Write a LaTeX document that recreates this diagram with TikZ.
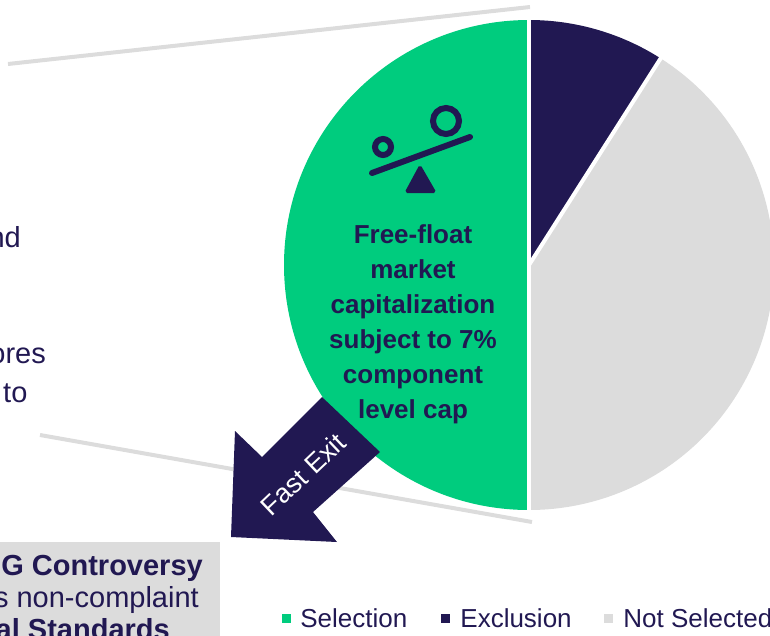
\documentclass[tikz,border=0pt]{standalone}
\usepackage{fontspec}
\setmainfont{Liberation Sans}
\usetikzlibrary{positioning}
\definecolor{esggreen}{HTML}{00CC7E}
\definecolor{esgnavy}{HTML}{211852}
\definecolor{esggrey}{HTML}{DCDCDC}

\begin{document}
\begin{tikzpicture}[x=1pt, y=-1pt,
			every node/.style = {inner sep=0pt, text=esgnavy,
					font=\fontsize{26}{35}\selectfont},
				side/.style={font=\fontsize{29}{32}\selectfont},
				leader/.style={draw=esggrey, line width=4pt},
				gap/.style={draw=white, line width=4pt},
				icon/.style={draw=esgnavy, line width=6pt, line cap=round},
				key/.style={minimum size=9pt}]
			\path[use as bounding box, clip] (0,0) rectangle (770,635);
			% leader lines
			\coordinate (lt1) at (8,64);
			\coordinate (lt2) at (530,7);
			\coordinate (lb1) at (40,435);
			\coordinate (lb2) at (532,522);
			\draw[leader] (lt1) -- (lt2);
			\draw[leader] (lb1) -- (lb2);
			% pie
			\coordinate (c) at (529,265);
			\fill[esggreen] (c) -- ++(0,-245) arc[start angle=-90, end angle=-270, radius=245] -- cycle;
			\fill[esgnavy] (c) -- ++(0,-245) arc[start angle=-90, end angle=-57.5, radius=245] -- cycle;
			\fill[esggrey] (c) -- ++(-57.5:245) arc[start angle=-57.5, end angle=90, radius=245] -- cycle;
			\draw[gap] (c) -- ++(0,-250);
			\draw[gap] (c) -- ++(0,250);
			\draw[gap] (c) -- ++(-57.5:250);
			% seesaw icon
			\draw[icon] (372,173) -- (470,137);
			\draw[icon] (383,147) circle[radius=8];
			\draw[icon] (446,121) circle[radius=13];
			\filldraw[esgnavy, line width=2pt, rounded corners=1.5pt] (420,166) -- (406,192) -- (435,192) -- cycle;
			\node[font=\fontsize{26}{35}\selectfont\bfseries, align=center] (cap) at (413,324)
				{Free-float\\market\\capitalization\\subject to 7\%\\component\\level cap};
			% fast exit arrow
			\fill[esgnavy] (322,397) -- (380,452) -- (313,512) -- (337,542) -- (231,537) -- (235,431) -- (262,457) -- cycle;
			\node[text=white, rotate=43.5, font=\fontsize{27}{27}\selectfont] (exit) at (303,474) {Fast Exit};
			% left column
			\node[side, anchor=base east] (t1) at (21,247) {nd};
			\node[side, anchor=base east] (t2) at (46,363) {ores};
			\node[side, anchor=base west] (t3) at (3,402) {to};
			\fill[esggrey] (-5,542) rectangle (220,640);
			\node[side, anchor=base east, font=\fontsize{29}{32}\selectfont\bfseries] (b1) at (203,575) {G Controversy};
			\node[side, anchor=base east] (b2) at (199,607) {s non-complaint};
			\node[side, anchor=base east, font=\fontsize{29}{32}\selectfont\bfseries] (b3) at (170,639) {al Standards};
			% legend
			\node[key, fill=esggreen] (ksel) at (286.5,618) {};
			\node[right=9pt of ksel] (lsel) {Selection};
			\node[key, fill=esgnavy] (kexc) at (445.5,618) {};
			\node[right=10pt of kexc] (lexc) {Exclusion};
			\node[key, fill=esggrey] (knot) at (608.5,618) {};
			\node[right=10pt of knot] (lnot) {Not Selected};
		\end{tikzpicture}
\end{document}
